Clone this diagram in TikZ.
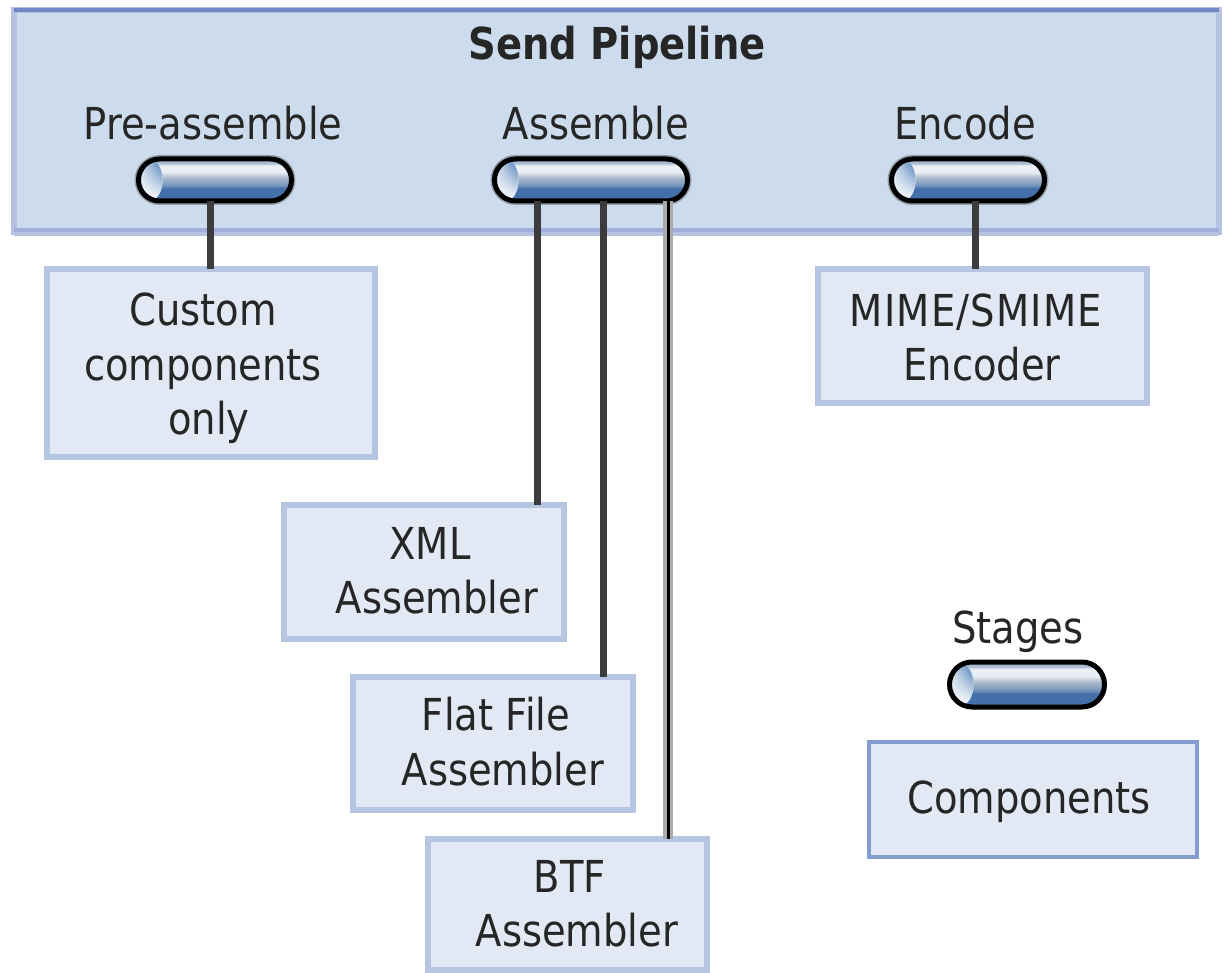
\documentclass[tikz,border=0pt]{standalone}
\usepackage{fontspec}
\setmainfont[FakeStretch=0.875]{DejaVu Sans}
\usetikzlibrary{shapes.misc,shadings}
\definecolor{pipefill}{HTML}{CDDCEC}
\definecolor{boxfill}{HTML}{E2E9F5}
\definecolor{boxedge}{HTML}{B5C5E2}
\definecolor{keyedge}{HTML}{839DCF}
\definecolor{pipetop}{HTML}{7186C6}
\definecolor{pipeside}{HTML}{B5C2E2}
\definecolor{pipelow}{HTML}{A0AFDA}
\definecolor{ink}{HTML}{262626}
\definecolor{capblue}{HTML}{3F74B0}
\definecolor{halo}{HTML}{959FA8}
\definecolor{sa}{HTML}{4470A9}
\definecolor{sb}{HTML}{6D8FBB}
\definecolor{sc}{HTML}{8AA5C4}
\definecolor{sd}{HTML}{A6B6C9}
\definecolor{se}{HTML}{C9D3DE}
\definecolor{sf}{HTML}{E8EDF3}
\definecolor{sg}{HTML}{EDF1F6}
\definecolor{sh}{HTML}{A9BBD3}
\definecolor{si}{HTML}{9FB4CF}
\pgfdeclareverticalshading{pillshade}{100bp}{
 color(0bp)=(sa); color(25bp)=(sa);
 color(40bp)=(sa); color(43bp)=(sb);
 color(47bp)=(sc); color(52bp)=(sd);
 color(56bp)=(se); color(59bp)=(sf);
 color(67bp)=(sg); color(70bp)=(sh);
 color(75bp)=(si); color(100bp)=(si)}
\tikzset{
 x=1pt,y=-1pt,
 every node/.style={font=\fontsize{44}{54.5}\selectfont,text=ink,inner sep=0pt,outer sep=0pt},
 stagepill/.style={rounded rectangle,draw=black,line width=5pt,shading=pillshade,
   minimum height=42pt,
   path picture={
     \fill[white] ([xshift=11pt]path picture bounding box.west) ellipse [x radius=13pt,y radius=21pt];
     \shade[lower left=white,upper left=white!85!capblue,upper right=capblue,lower right=white]
       ([xshift=11pt]path picture bounding box.west) ellipse [x radius=13pt,y radius=21pt];
   }},
 halopill/.style={stagepill,preaction={draw=halo,line width=8pt}},
 compbox/.style={rectangle,draw=boxedge,line width=6pt,fill=boxfill},
 keybox/.style={rectangle,draw=keyedge,line width=4pt,fill=boxfill},
 linkline/.style={line width=7pt,draw=ink!90!white},
 pale/.style={line width=10pt,draw=black!33},
 thin core/.style={line width=3pt,draw=black},
}
\newcommand{\boxat}[6]{\pgfmathsetmacro{\bw}{#4-#3-2}\pgfmathsetmacro{\bh}{#6-#5-2}%
 \node[#1,minimum width=\bw pt,minimum height=\bh pt] (#2) at ({(#3+#4)/2},{(#5+#6)/2}) {};}
\begin{document}
\begin{tikzpicture}
\useasboundingbox (0,0) rectangle (1224,973);
% pipeline frame
\node[rectangle,fill=pipefill,draw=pipeside,line width=6pt,minimum width=1205pt,minimum height=222pt] (pipe) at (616.5,121) {};
\draw[pipetop,line width=4pt] (pipe.north west) -- (pipe.north east);
\draw[pipeside,line width=4pt] ([yshift=-2pt]pipe.south west) -- ([yshift=-2pt]pipe.south east);
\draw[pipelow,line width=4pt] ([yshift=2pt]pipe.south west) -- ([yshift=2pt]pipe.south east);
% stages
\node[halopill,minimum width=153pt] (spre) at (215,180) {};
\node[halopill,minimum width=193pt] (sasm) at (591,180) {};
\node[halopill,minimum width=153pt] (senc) at (968,180) {};
\node[stagepill,minimum width=155pt,minimum height=45pt] (skey) at (1027,684.5) {};
% component boxes
\boxat{compbox}{custom}{46}{376}{268}{458}
\boxat{compbox}{mime}{817}{1148}{268}{404}
\boxat{compbox}{xmlb}{283}{565}{504}{640}
\boxat{compbox}{flat}{352}{634}{676}{811}
\boxat{compbox}{btf}{427}{708}{838}{971}
\boxat{keybox}{comps}{868}{1198}{741}{858}
% connectors
\draw[linkline] (210.5,0 |- spre.south) -- (210.5,0 |- custom.north);
\draw[linkline] (537.5,0 |- sasm.south) -- (537.5,0 |- xmlb.north);
\draw[linkline] (603.5,0 |- sasm.south) -- (603.5,0 |- flat.north);
\draw[pale] (668.3,0 |- sasm.south) -- (668.3,0 |- btf.north);
\draw[thin core] (668.3,0 |- sasm.south) -- (668.3,0 |- btf.north);
\draw[linkline] (975,0 |- senc.south) -- (975,0 |- mime.north);
% labels
\node[font=\fontsize{44}{54.5}\selectfont\bfseries] (title) at (617,47) {Send Pipeline};
\node (lpre) at (213,123) {Pre-assemble};
\node (lasm) at (596,123) {Assemble};
\node (lenc) at (965,123) {Encode};
\node (lkey) at (1018,632) {Stages};
\node[align=center] (tcustom) at (203,368.5) {Custom\\components\\\hspace*{12pt}only};
\node[align=center] (tmime) at (976,337.5) {{\addfontfeature{LetterSpace=2.7}MIME/SMIME}\\\hspace*{12pt}Encoder};
\node[align=center] (txml) at (437,571) {XML\hspace*{14pt}\\Assembler};
\node[align=center] (tflat) at (503,741.5) {Flat File\hspace*{14pt}\\Assembler};
\node[align=center] (tbtf) at (577,904) {BTF\hspace*{14pt}\\Assembler};
\node (tcomps) at (1029,802) {Components};
\end{tikzpicture}
\end{document}
